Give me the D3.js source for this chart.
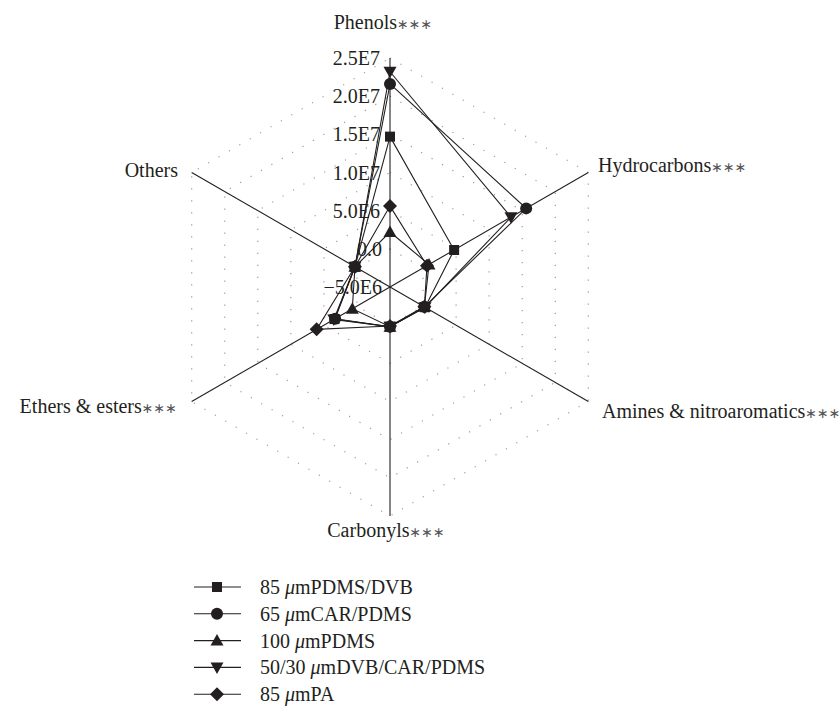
<!DOCTYPE html>
<html>
<head>
<meta charset="utf-8">
<script src="https://cdn.jsdelivr.net/npm/d3@7"></script>
<style>
  html, body { margin: 0; padding: 0; background: #fff; overflow: hidden; }
  svg { display: block; }
  text { font-family: "Liberation Serif", "Times New Roman", serif; fill: #231f20; }
</style>
</head>
<body>
<svg id="chart" width="839" height="707"></svg>
<script>
// ---------- data ----------
const categories = ["Phenols", "Hydrocarbons", "Amines & nitroaromatics", "Carbonyls", "Ethers & esters", "Others"];
const categoryStars = ["∗∗∗", "∗∗∗", "∗∗∗", "∗∗∗", "∗∗∗", ""];
const seriesNames = ["85 μmPDMS/DVB", "65 μmCAR/PDMS", "100 μmPDMS", "50/30 μmDVB/CAR/PDMS", "85 μmPA"];
const pdmsDvb    = [14.7e6, 4.7e6, 0.3e6, 0.2e6, 3.4e6, 0.3e6];
const carPdms    = [21.6e6, 15.6e6, 0.2e6, 0.2e6, 3.3e6, 0.3e6];
const pdms       = [2.2e6, 0.9e6, 0.2e6, 0.2e6, 0.7e6, 0.3e6];
const dvbCarPdms = [23.2e6, 13.3e6, 0.3e6, 0.2e6, 3.5e6, 0.3e6];
const pa         = [5.6e6, 0.6e6, 0.2e6, 0.1e6, 6.1e6, 0.3e6];
const tickValues = [-5e6, 0, 5e6, 10e6, 15e6, 20e6, 25e6];
const tickLabels = ["−5.0E6", "0.0", "5.0E6", "1.0E7", "1.5E7", "2.0E7", "2.5E7"];

const seriesValues = [pdmsDvb, carPdms, pdms, dvbCarPdms, pa];
const markerTypes = ["square", "circle", "triUp", "triDown", "diamond"];

// ---------- layout ----------
const svg = d3.select("#chart");
const cx = 390, cy = 287, R = 229;
const rScale = d3.scaleLinear().domain([tickValues[0], tickValues[tickValues.length - 1]]).range([0, R]);
const angle = d3.scalePoint().domain(d3.range(categories.length)).range([0, 2 * Math.PI * (categories.length - 1) / categories.length]);
function pt(i, v) {
  const a = angle(i);
  const r = rScale(v);
  return [cx + r * Math.sin(a), cy - r * Math.cos(a)];
}

const g = svg.append("g");

// grid rings (dotted)
tickValues.slice(1).forEach(t => {
  const pts = categories.map((c, i) => pt(i, t));
  g.append("path")
    .attr("d", d3.line()(pts) + "Z")
    .attr("fill", "none")
    .attr("stroke", "#9a9a9a")
    .attr("stroke-width", 1.2)
    .attr("stroke-dasharray", "1.2 10.8");
});

// axis spokes
categories.forEach((c, i) => {
  const p = pt(i, tickValues[tickValues.length - 1]);
  g.append("line")
    .attr("x1", cx).attr("y1", cy)
    .attr("x2", p[0]).attr("y2", p[1])
    .attr("stroke", "#231f20")
    .attr("stroke-width", 1.1);
});

// tick labels along top axis
tickValues.forEach((t, k) => {
  g.append("text")
    .attr("x", 380 + (k < 2 ? 2 : 0))
    .attr("y", cy - rScale(t))
    .attr("dy", "0.35em")
    .attr("text-anchor", "end")
    .attr("font-size", 20)
    .text(tickLabels[k]);
});

// marker paths
function markerPath(type) {
  switch (type) {
    case "square": return "M-5,-5H5V5H-5Z";
    case "circle": return d3.symbol(d3.symbolCircle, Math.PI * 36)();
    case "triUp": return "M0,-6.5L6.5,5L-6.5,5Z";
    case "triDown": return "M0,6.5L6.5,-5L-6.5,-5Z";
    case "diamond": return "M0,-7L7,0L0,7L-7,0Z";
  }
}

// series lines
seriesValues.forEach((vals, s) => {
  const pts = vals.map((v, i) => pt(i, v));
  g.append("path")
    .attr("d", d3.line()(pts) + "Z")
    .attr("fill", "none")
    .attr("stroke", "#231f20")
    .attr("stroke-width", 1.1);
});
// series markers
seriesValues.forEach((vals, s) => {
  vals.forEach((v, i) => {
    const p = pt(i, v);
    g.append("path")
      .attr("d", markerPath(markerTypes[s]))
      .attr("transform", `translate(${p[0]},${p[1]})`)
      .attr("fill", "#231f20");
  });
});

// category labels
const labelPos = [
  { x: 383, y: 29, anchor: "middle" },
  { x: 598, y: 172, anchor: "start" },
  { x: 602, y: 418, anchor: "start" },
  { x: 386, y: 537, anchor: "middle" },
  { x: 177, y: 413, anchor: "end" },
  { x: 178, y: 177, anchor: "end" }
];
categories.forEach((c, i) => {
  const t = svg.append("text")
    .attr("x", labelPos[i].x)
    .attr("y", labelPos[i].y)
    .attr("text-anchor", labelPos[i].anchor)
    .attr("font-size", 20);
  t.append("tspan").text(c);
  if (categoryStars[i]) {
    t.append("tspan")
      .attr("font-family", "DejaVu Sans")
      .attr("font-size", 14)
      .attr("fill", "#555")
      .text(categoryStars[i]);
  }
});

// legend
const legY0 = 587, legDy = 26.8;
seriesNames.forEach((name, s) => {
  const y = legY0 + s * legDy;
  svg.append("line")
    .attr("x1", 194).attr("x2", 241)
    .attr("y1", y).attr("y2", y)
    .attr("stroke", "#231f20").attr("stroke-width", 1.1);
  svg.append("path")
    .attr("d", markerPath(markerTypes[s]))
    .attr("transform", `translate(217,${y})`)
    .attr("fill", "#231f20");
  const parts = name.split("μ");
  const t = svg.append("text")
    .attr("x", 260).attr("y", y).attr("dy", "0.35em")
    .attr("font-size", 20);
  t.append("tspan").text(parts[0]);
  t.append("tspan").attr("font-style", "italic").text("μ");
  t.append("tspan").text(parts[1]);
});
</script>
</body>
</html>
